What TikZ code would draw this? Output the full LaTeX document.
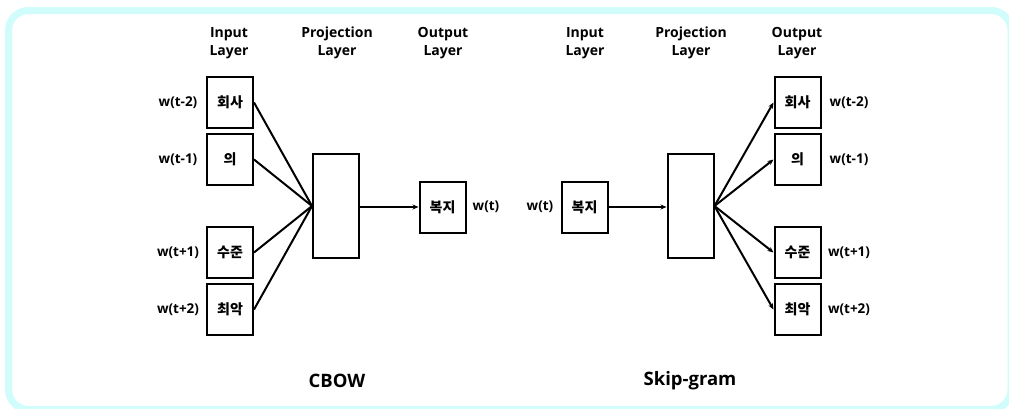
\documentclass[tikz,border=0pt]{standalone}
\usepackage{fontspec}
\setmainfont{Open Sans}
\newfontfamily\kr{Noto Sans CJK KR}
\usetikzlibrary{arrows.meta}
\definecolor{framecyan}{RGB}{208,252,252}
\begin{document}
\begin{tikzpicture}[
        x=1pt, y=-1pt,
        word/.style={
            draw,
            line width=2pt,
            minimum width=46pt,
            minimum height=51pt,
            inner sep=0pt,
            font=\kr\bfseries\fontsize{14}{16}\selectfont
        },
        proj/.style={draw, line width=2pt, minimum width=46pt, minimum height=104pt},
        lbl/.style={font=\bfseries\fontsize{13.5}{16}\selectfont},
        head/.style={align=center, font=\bfseries\fontsize{14}{18}\selectfont},
        title/.style={font=\bfseries\fontsize{18.5}{22}\selectfont},
        link/.style={line width=2pt},
        signal/.style={-{Stealth[length=6pt,width=5pt]}, line width=2pt}
    ]
        \useasboundingbox (0,0) rectangle (1009,408);
        \draw[framecyan, line width=7pt, rounded corners=20pt] (8.5,10.5) rectangle (1011,409.5);

        % CBOW
        \node[head] (cinhead) at (229,43) {Input\\Layer};
        \node[head] (cprojhead) at (337,43) {Projection\\Layer};
        \node[head] (couthead) at (443,43) {Output\\Layer};

        \node[word] (cin1) at (230,102.5) {회사};
        \node[word] (cin2) at (230,159.5) {의};
        \node[word] (cin3) at (230,252.5) {수준};
        \node[word] (cin4) at (230,309.5) {최악};
        \node[lbl] (lcin1) at (178,102.5) {w(t-2)};
        \node[lbl] (lcin2) at (178,159.5) {w(t-1)};
        \node[lbl] (lcin3) at (178,252.5) {w(t+1)};
        \node[lbl] (lcin4) at (178,309.5) {w(t+2)};

        \node[proj] (cproj) at (336,206) {};
        \node[word] (cout) at (442.5,207) {복지};
        \node[lbl] (lcout) at (486,207) {w(t)};

        \foreach \i in {1,...,4}
            \draw[link] (cin\i.east) -- (cproj.west);
        \draw[signal] (cproj.east |- cout) -- (cout);

        \node[title] (cbow) at (337,381) {CBOW};

        % Skip-gram
        \node[head] (sinhead) at (585,43) {Input\\Layer};
        \node[head] (sprojhead) at (691,43) {Projection\\Layer};
        \node[head] (south) at (797,43) {Output\\Layer};

        \node[word] (sin) at (584.5,207) {복지};
        \node[lbl] (lsin) at (540,207) {w(t)};
        \node[proj] (sproj) at (690.5,206) {};

        \node[word] (sout1) at (797.5,102.5) {회사};
        \node[word] (sout2) at (797.5,159.5) {의};
        \node[word] (sout3) at (797.5,252.5) {수준};
        \node[word] (sout4) at (797.5,309.5) {최악};
        \node[lbl] (lsout1) at (849,102.5) {w(t-2)};
        \node[lbl] (lsout2) at (849,159.5) {w(t-1)};
        \node[lbl] (lsout3) at (849,252.5) {w(t+1)};
        \node[lbl] (lsout4) at (849,309.5) {w(t+2)};

        \draw[signal] (sin) -- (sproj.west |- sin);
        \foreach \i in {1,...,4}
            \draw[signal] (sproj.east) -- (sout\i.west);

        \node[title] (skipgram) at (690,381) {Skip-gram};
    \end{tikzpicture}
\end{document}
